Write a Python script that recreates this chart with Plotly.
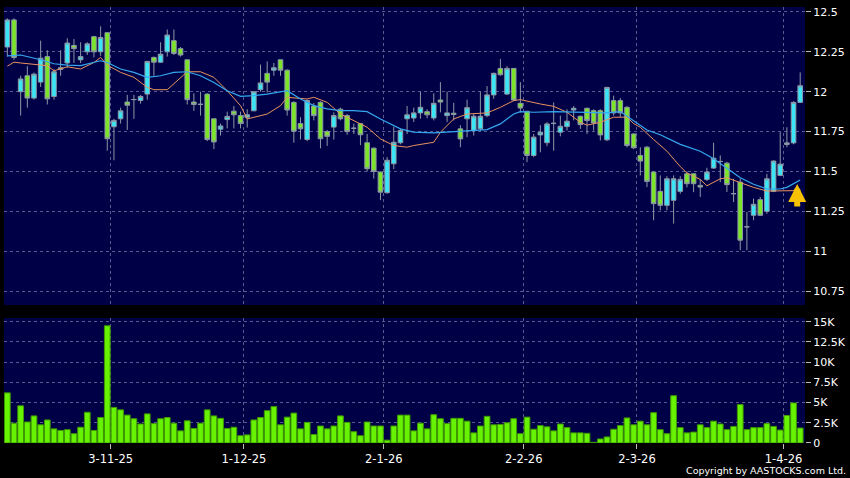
import pandas as pd
import plotly.graph_objects as go
from plotly.subplots import make_subplots

# ---- trading days (HK) ----
holidays = ["2025-10-29", "2025-12-25", "2025-12-26", "2026-01-01", "2026-02-17",
            "2026-02-18", "2026-02-19", "2026-04-03", "2026-04-06", "2026-04-07"]
dates = [d.strftime("%Y-%m-%d") for d in pd.bdate_range("2025-10-09", "2026-04-08")
         if d.strftime("%Y-%m-%d") not in holidays]

open_ = [12.28, 12.45, 12.00, 12.10, 11.96, 12.06, 12.22, 11.97, 12.14, 12.18,
         12.29, 12.20, 12.25, 12.345, 12.25, 12.37, 11.78, 11.83, 11.935, 11.95,
         11.945, 11.985, 12.215, 12.185, 12.25, 12.32, 12.27, 12.20, 11.935, 11.92,
         11.985, 11.83, 11.765, 11.825, 11.878, 11.85, 11.84, 11.88, 12.0125, 12.115,
         12.135, 12.20, 12.135, 11.933, 11.80, 11.70, 11.91, 11.933, 11.75, 11.778,
         11.89, 11.85, 11.77, 11.80, 11.68, 11.646, 11.496, 11.367, 11.548, 11.68,
         11.83, 11.835, 11.867, 11.875, 11.835, 11.948, 11.85, 11.865, 11.767, 11.83,
         11.756, 11.767, 11.85, 11.98, 12.146, 11.985, 12.146, 11.927, 11.877, 11.60,
         11.729, 11.68, 11.80, 11.746, 11.781, 11.885, 11.846, 11.896, 11.881, 11.881,
         11.698, 11.944, 11.944, 11.902, 11.735, 11.60, 11.652, 11.496, 11.375, 11.2875,
         11.319, 11.375, 11.485, 11.485, 11.4125, 11.45, 11.521, 11.5625, 11.552, 11.36,
         11.433, 11.152, 11.225, 11.323, 11.25, 11.375, 11.475, 11.669, 11.679, 11.933]
high = [12.46, 12.46, 12.10, 12.16, 12.12, 12.32, 12.26, 12.14, 12.26, 12.335,
        12.33, 12.31, 12.31, 12.35, 12.41, 12.37, 11.83, 11.90, 11.98, 11.98,
        11.98, 12.19, 12.22, 12.31, 12.39, 12.39, 12.28, 12.20, 11.99, 12.00,
        11.99, 11.83, 11.80, 11.875, 11.91, 11.875, 11.89, 12.00, 12.17, 12.19,
        12.18, 12.20, 12.14, 11.94, 11.84, 11.95, 11.93, 11.94, 11.76, 11.87,
        11.90, 11.86, 11.80, 11.80, 11.735, 11.65, 11.50, 11.59, 11.78, 11.77,
        11.91, 11.90, 12.00, 11.89, 11.99, 12.06, 12.00, 11.93, 11.79, 11.95,
        11.86, 12.00, 12.035, 12.12, 12.205, 12.16, 12.146, 12.06, 11.88, 11.735,
        11.79, 11.81, 11.933, 11.85, 11.89, 11.91, 11.85, 11.90, 11.89, 11.89,
        12.03, 11.975, 11.96, 11.91, 11.74, 11.652, 11.66, 11.50, 11.475, 11.47,
        11.475, 11.47, 11.50, 11.49, 11.45, 11.523, 11.68, 11.60, 11.56, 11.454,
        11.455, 11.246, 11.33, 11.34, 11.485, 11.57, 11.746, 11.777, 11.94, 12.121]
low = [12.22, 12.20, 11.85, 11.90, 11.95, 12.03, 11.92, 11.95, 12.10, 12.15,
       12.18, 12.18, 12.23, 12.215, 12.225, 11.63, 11.57, 11.80, 11.76, 11.83,
       11.925, 11.95, 12.10, 12.18, 12.22, 12.23, 12.22, 11.92, 11.88, 11.85,
       11.69, 11.64, 11.725, 11.77, 11.77, 11.77, 11.775, 11.88, 12.00, 11.995,
       12.10, 12.10, 11.85, 11.68, 11.70, 11.69, 11.82, 11.645, 11.66, 11.70,
       11.82, 11.73, 11.735, 11.665, 11.50, 11.455, 11.32, 11.36, 11.515, 11.67,
       11.735, 11.81, 11.83, 11.833, 11.82, 11.87, 11.81, 11.82, 11.652, 11.715,
       11.725, 11.755, 11.84, 11.955, 12.10, 11.98, 11.94, 11.87, 11.558, 11.59,
       11.62, 11.658, 11.63, 11.72, 11.756, 11.82, 11.767, 11.735, 11.756, 11.694,
       11.69, 11.85, 11.84, 11.65, 11.64, 11.475, 11.402, 11.194, 11.256, 11.256,
       11.173, 11.36, 11.40, 11.37, 11.34, 11.44, 11.515, 11.433, 11.371, 11.308,
       11.006, 11.006, 11.194, 11.22, 11.235, 11.37, 11.47, 11.652, 11.67, 11.93]
close = [12.45, 12.215, 12.08, 11.96, 12.11, 12.21, 11.955, 12.125, 12.15, 12.305,
         12.27, 12.22, 12.30, 12.25, 12.34, 11.705, 11.82, 11.88, 11.915, 11.951,
         11.97, 12.19, 12.185, 12.235, 12.355, 12.24, 12.23, 11.95, 11.92, 11.921,
         11.70, 11.685, 11.785, 11.845, 11.855, 11.80, 11.855, 12.00, 12.055, 12.06,
         12.15, 12.135, 11.885, 11.752, 11.767, 11.945, 11.85, 11.705, 11.72, 11.85,
         11.83, 11.75, 11.771, 11.73, 11.517, 11.50, 11.37, 11.57, 11.683, 11.757,
         11.855, 11.867, 11.902, 11.855, 11.927, 11.935, 11.867, 11.857, 11.704, 11.90,
         11.846, 11.846, 11.98, 12.115, 12.106, 12.146, 11.948, 11.898, 11.60, 11.715,
         11.746, 11.798, 11.802, 11.783, 11.815, 11.896, 11.794, 11.819, 11.804, 11.729,
         12.027, 11.867, 11.867, 11.6625, 11.648, 11.565, 11.4375, 11.298, 11.2875, 11.454,
         11.454, 11.45, 11.423, 11.423, 11.402, 11.496, 11.583, 11.5626, 11.417, 11.361,
         11.069, 11.153, 11.294, 11.225, 11.454, 11.565, 11.546, 11.679, 11.933, 12.0375]
volume = [6200, 2450, 4600, 2600, 3350, 2250, 2850, 1750, 1550, 1650,
          1150, 1950, 3800, 1550, 3150, 14500, 4400, 4100, 3450, 3000,
          2350, 3600, 2400, 3000, 3150, 2450, 1500, 2750, 1800, 2450,
          4100, 3350, 3050, 1800, 1950, 900, 1000, 2850, 3150, 4000,
          4500, 2250, 3200, 3700, 1750, 2550, 1050, 2100, 1750, 2100,
          3350, 2550, 1400, 900, 2600, 2100, 2100, 350, 2100, 3450,
          3450, 1500, 2450, 1750, 3500, 3000, 2400, 3050, 3050, 2700,
          1250, 2100, 3300, 2250, 2300, 2500, 3000, 1150, 3200, 1700,
          2150, 2000, 1500, 2350, 1900, 1250, 1250, 1200, 80, 500,
          750, 1700, 2150, 3100, 2250, 2700, 2250, 3750, 1650, 1150,
          5850, 1900, 1250, 1350, 2250, 1900, 2700, 2350, 1650, 2050,
          4750, 1650, 1900, 1900, 2400, 2050, 1600, 3400, 4950, 1850]

# moving averages (bar position -> value)
ma_short_pos = [0, 1, 2, 4, 6, 7, 9, 11, 13, 14, 15, 17, 19, 21, 22, 24, 26, 27, 29, 31,
                33, 35, 36, 39, 41, 42, 45, 46, 48, 50, 53, 54, 56, 58, 60, 61, 64, 65, 67, 69,
                72, 74, 76, 77, 80, 82, 84, 86, 87, 89, 91, 93, 94, 95, 97, 99, 101, 102, 104, 105,
                107, 108, 110, 112, 114, 117, 119]
ma_short = [12.16, 12.185, 12.18, 12.173, 12.163, 12.131, 12.156, 12.142, 12.183, 12.215,
            12.167, 12.121, 12.09, 12.027, 12.0125, 12.0125, 12.09, 12.125, 12.125, 12.09,
            12.006, 11.9125, 11.829, 11.86, 11.9125, 11.965, 11.954, 11.965, 11.933, 11.86,
            11.798, 11.777, 11.704, 11.6625, 11.652, 11.6625, 11.683, 11.746, 11.829, 11.86,
            11.867, 11.902, 11.944, 11.95, 11.923, 11.908, 11.871, 11.808, 11.79, 11.808,
            11.84, 11.84, 11.80, 11.777, 11.70, 11.627, 11.53, 11.49, 11.45, 11.41,
            11.454, 11.46, 11.43, 11.40, 11.377, 11.38, 11.38]
ma_long_pos = [0, 2, 5, 7, 9, 11, 14, 15, 17, 19, 21, 23, 25, 27, 29, 31, 33, 35, 37, 39,
               42, 44, 46, 48, 50, 52, 54, 56, 59, 61, 64, 67, 70, 72, 74, 76, 77, 79, 82, 85,
               87, 90, 92, 94, 96, 98, 101, 104, 106, 108, 110, 112, 114, 116, 117, 119]
ma_long = [12.225, 12.23, 12.20, 12.175, 12.167, 12.163, 12.194, 12.183, 12.142, 12.121,
           12.09, 12.10, 12.121, 12.125, 12.10, 12.058, 12.006, 11.971, 11.975, 11.985,
           12.006, 11.954, 11.9125, 11.892, 11.881, 11.881, 11.875, 11.829, 11.767, 11.746,
           11.742, 11.75, 11.756, 11.7625, 11.798, 11.86, 11.875, 11.871, 11.875, 11.871,
           11.867, 11.867, 11.875, 11.82, 11.76, 11.73, 11.67, 11.627, 11.58, 11.52,
           11.46, 11.42, 11.39, 11.39, 11.40, 11.446]

tick_dates = ["2025-11-03", "2025-12-01", "2026-01-02", "2026-02-02", "2026-03-02", "2026-04-01"]
tick_text = ["3-11-25", "1-12-25", "2-1-26", "2-2-26", "2-3-26", "1-4-26"]
price_ticks = [10.75, 11, 11.25, 11.5, 11.75, 12, 12.25, 12.5]
price_text = ["10.75", "11", "11.25", "11.5", "11.75", "12", "12.25", "12.5"]
vol_ticks = [0, 2500, 5000, 7500, 10000, 12500, 15000]
vol_text = ["0", "2.5K", "5K", "7.5K", "10K", "12.5K", "15K"]

pos = list(range(len(dates)))
tick_pos = [dates.index(d) - 0.5 for d in tick_dates]

UP = "#3ae6f5"
DOWN = "#7ce52a"
EDGE = "#8c98a6"
GRID = "#5a5a90"
FONT = "DejaVu Sans"

fig = make_subplots(rows=2, cols=1, shared_xaxes=True)

fig.add_trace(go.Candlestick(
    x=pos, open=open_, high=high, low=low, close=close, text=dates,
    increasing=dict(line=dict(color=EDGE, width=1), fillcolor=UP),
    decreasing=dict(line=dict(color=EDGE, width=1), fillcolor=DOWN),
    whiskerwidth=0, showlegend=False), row=1, col=1)

fig.add_trace(go.Scatter(x=ma_short_pos, y=ma_short, mode="lines",
                         line=dict(color="#e8935e", width=1), showlegend=False,
                         hoverinfo="skip"), row=1, col=1)
fig.add_trace(go.Scatter(x=ma_long_pos, y=ma_long, mode="lines",
                         line=dict(color="#35a8f0", width=1.2), showlegend=False,
                         hoverinfo="skip"), row=1, col=1)

fig.add_trace(go.Bar(x=pos, y=volume, width=0.86, text=dates, textposition="none",
                     marker=dict(color="#66f200", line=dict(color="#3f9a00", width=1)),
                     showlegend=False), row=2, col=1)

axis_common = dict(showline=False, zeroline=False, gridcolor=GRID, griddash="3px,3px",
                   gridwidth=1)

fig.update_layout(
    width=850, height=478,
    margin=dict(l=4, r=42, t=7, b=35),
    paper_bgcolor="#000000", plot_bgcolor="#000046",
    boxgap=0.02, bargap=0.1,
    font=dict(family=FONT, color="#ffffff"),
    xaxis=dict(range=[-0.5, 119.72], tickvals=tick_pos, ticktext=tick_text,
               showticklabels=False, rangeslider=dict(visible=False), **axis_common),
    xaxis2=dict(range=[-0.5, 119.72], tickvals=tick_pos, ticktext=tick_text,
                ticks="outside", ticklen=5, tickcolor="#bbbbbb",
                tickfont=dict(size=11.5, color="#ffffff"), **axis_common),
    yaxis=dict(domain=[0.3165, 1], range=[10.6625, 12.531], side="right",
               tickvals=price_ticks, ticktext=price_text, ticks="outside", ticklen=5,
               tickcolor="#bbbbbb", tickfont=dict(size=11, color="#ffffff"), **axis_common),
    yaxis2=dict(domain=[0, 0.2867], range=[0, 15460], side="right",
                tickvals=vol_ticks, ticktext=vol_text, ticks="outside", ticklen=5,
                tickcolor="#bbbbbb", tickfont=dict(size=11, color="#ffffff"), **axis_common),
)

fig.add_annotation(x=pos[-1], y=ma_long[-1], xref="x", yref="y", xshift=-3, yshift=-4,
                   ax=0, ay=24, showarrow=True, arrowhead=2, arrowsize=0.6, arrowwidth=6,
                   arrowcolor="#f7c000", text="")

fig.add_annotation(x=1, y=-0.062, xref="paper", yref="paper", xanchor="right",
                   yanchor="middle", xshift=43, showarrow=False,
                   text="Copyright by AASTOCKS.com Ltd.",
                   font=dict(family=FONT, size=9.5, color="#ffffff"))

fig.write_html("out.html", config={"displayModeBar": False},
               post_script="document.body.style.margin='0';document.body.style.overflow='hidden';")
